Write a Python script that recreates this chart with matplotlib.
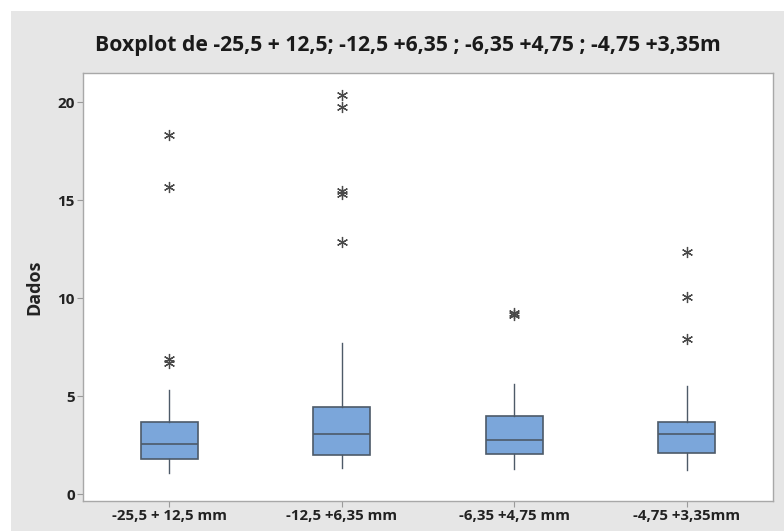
import matplotlib
matplotlib.use("Agg")
import matplotlib.pyplot as plt
from matplotlib.patches import Rectangle

categories = ["-25,5 + 12,5 mm", "-12,5 +6,35 mm", "-6,35 +4,75 mm", "-4,75 +3,35mm"]
q1 = [1.82, 1.99, 2.04, 2.11]
median = [2.57, 3.10, 2.79, 3.10]
q3 = [3.71, 4.46, 3.98, 3.69]
whisker_low = [1.11, 1.34, 1.28, 1.26]
whisker_high = [5.30, 7.69, 5.65, 5.51]
outliers = [
    [18.32, 15.68, 6.88, 6.67],
    [20.36, 19.76, 15.45, 15.30, 12.87],
    [9.22, 9.12],
    [12.36, 10.07, 7.94],
]
title = "Boxplot de -25,5 + 12,5; -12,5 +6,35 ; -6,35 +4,75 ; -4,75 +3,35m"
ylabel = "Dados"
yticks = [0, 5, 10, 15, 20]

plt.rcParams['font.family'] = ['Open Sans', 'DejaVu Sans']

W, H = 784, 531
fig = plt.figure(figsize=(W / 100, H / 100), dpi=100)
fig.patch.set_facecolor("white")
fig.add_artist(Rectangle((11 / W, 0), 1 - 11 / W, 1 - 11 / H, transform=fig.transFigure,
                         facecolor="#e6e6e6", edgecolor="none", zorder=-10))

ax = fig.add_axes([83 / W, 1 - 501 / H, (773 - 83) / W, (501 - 73) / H])
ax.set_facecolor("white")

stats = []
for i in range(len(categories)):
    stats.append(dict(med=median[i], q1=q1[i], q3=q3[i], whislo=whisker_low[i],
                      whishi=whisker_high[i], fliers=outliers[i], label=categories[i]))

edge = "#4d5a68"
ax.bxp(stats, positions=range(1, len(categories) + 1), widths=0.33, patch_artist=True,
       showcaps=False,
       boxprops=dict(facecolor="#7ba6da", edgecolor=edge, linewidth=1.2),
       medianprops=dict(color=edge, linewidth=1.2),
       whiskerprops=dict(color=edge, linewidth=1.0),
       flierprops=dict(marker=(6, 2, 0), markersize=8, markeredgecolor="#4a4a4a",
                       markerfacecolor="#4a4a4a", markeredgewidth=0.9, linestyle="none"))

ax.set_xlim(0.5, 4.5)
ax.set_ylim(-0.34, 21.48)
ax.set_yticks(yticks)
ax.set_yticklabels([str(v) for v in yticks], fontsize=11, fontweight="bold", color="#222222")
ax.set_xticks(range(1, len(categories) + 1))
ax.set_xticklabels(categories, fontsize=10.8, fontweight="bold", color="#222222")
ax.tick_params(axis="both", direction="out", length=4, width=0.8, color="#9a9a9a", pad=2)

for s in ax.spines.values():
    s.set_color("#a8a8a8")
    s.set_linewidth(1.0)

ax.set_ylabel(ylabel, fontsize=13, fontweight="bold", color="#222222", labelpad=10)
fig.text(408 / W, 1 - 46 / H, title, ha="center", va="center", fontsize=15.2,
         fontweight="bold", color="#1a1a1a")

fig.savefig("out.png", dpi=100)
